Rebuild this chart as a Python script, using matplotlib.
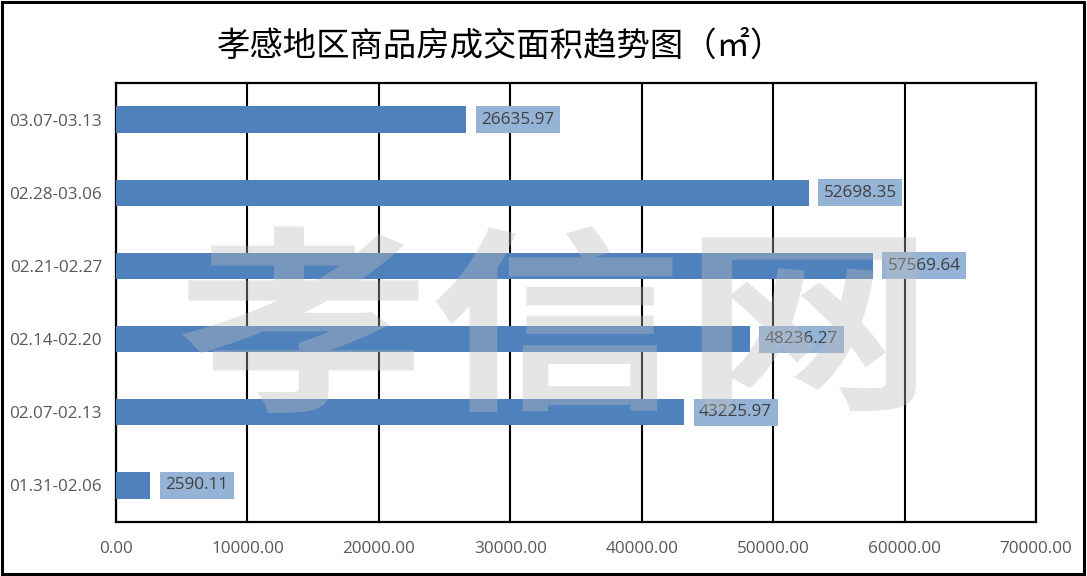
import matplotlib
matplotlib.use("Agg")
import matplotlib.pyplot as plt
from matplotlib.textpath import TextPath
from matplotlib.font_manager import FontProperties
from matplotlib.patches import PathPatch, Rectangle
from matplotlib.path import Path
import numpy as np

categories = ["01.31-02.06", "02.07-02.13", "02.14-02.20", "02.21-02.27", "02.28-03.06", "03.07-03.13"]
values = [2590.11, 43225.97, 48236.27, 57569.64, 52698.35, 26635.97]
xticks = [0, 10000, 20000, 30000, 40000, 50000, 60000, 70000]
title = "孝感地区商品房成交面积趋势图（㎡）"
watermark = "孝信网"

W, H = 1087, 576
fig = plt.figure(figsize=(W / 100, H / 100), dpi=100)
ax = fig.add_axes([116 / W, 1 - 522 / H, (1036 - 116) / W, (522 - 83) / H])

y = np.arange(len(categories))
ax.barh(y, values, height=0.36, color="#4F81BD", zorder=3)
ax.set_ylim(-0.5, len(categories) - 0.5)
ax.set_xlim(0, 70000)
ax.set_xticks(xticks)
ax.set_xticklabels([f"{v:.2f}" for v in xticks], color="#595959", fontsize=12.3, family="Open Sans")
ax.set_yticks(y)
ax.set_yticklabels(categories, color="#595959", fontsize=12.3, family="Open Sans")
ax.tick_params(length=0, pad=10)
ax.tick_params(axis="x", pad=14)
ax.grid(axis="x", color="black", linewidth=1.5, zorder=1)
ax.set_axisbelow(True)
for s in ax.spines.values():
    s.set_color("black")
    s.set_linewidth(1.6)

for yi, v in zip(y, values):
    ax.annotate(f"{v:.2f}", (v, yi), xytext=(15, 0), textcoords="offset pixels",
                ha="left", va="center", fontsize=12.3, family="Open Sans", color="#404040",
                bbox=dict(boxstyle="square,pad=0.32", fc="#95B3D7", ec="none"), zorder=4)

fig.text(501 / W, 1 - 46 / H, title, ha="center", va="center", fontsize=24,
         family=["Noto Sans CJK SC", "DejaVu Sans"], color="black")

# watermark
fp = FontProperties(family="Noto Sans CJK SC", weight="bold")
tp = TextPath((0, 0), watermark, size=100, prop=fp)
verts = tp.vertices.copy()
x0, y0 = verts[:, 0].min(), verts[:, 1].min()
x1, y1 = verts[:, 0].max(), verts[:, 1].max()
bx0, bx1 = 177 / W, 916 / W
by0, by1 = 1 - 413 / H, 1 - 226 / H
verts[:, 0] = bx0 + (verts[:, 0] - x0) / (x1 - x0) * (bx1 - bx0)
verts[:, 1] = by0 + (verts[:, 1] - y0) / (y1 - y0) * (by1 - by0)
wp = Path(verts, tp.codes)
fig.add_artist(PathPatch(wp, transform=fig.transFigure, fc=(188 / 255, 188 / 255, 188 / 255),
                         alpha=0.375, ec="none", zorder=10))

fig.add_artist(Rectangle((1.5 / W, 2.5 / H), (W - 4.5) / W, (H - 4.5) / H, transform=fig.transFigure,
                         fill=False, ec="black", lw=2.2, zorder=20))

fig.savefig("out.png", dpi=100)
